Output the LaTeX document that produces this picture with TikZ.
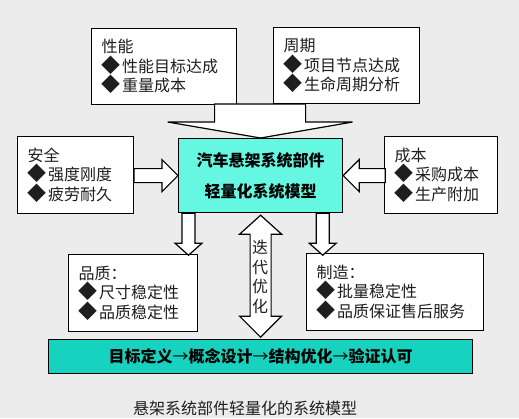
\documentclass[tikz,border=0pt]{standalone}
\usepackage{fontspec}
\usepackage{tikz}
\usepackage{xcolor}
\newfontfamily\cjk{Noto Sans CJK SC}
\definecolor{bggray}{RGB}{236,236,236}
\definecolor{mainfill}{RGB}{102,247,226}
\definecolor{barfill}{RGB}{22,210,190}
\definecolor{inkgray}{RGB}{30,30,30}
\newcommand\dia{{\fontsize{19}{19.5}\selectfont ◆}\hspace{1.5pt}}
\newcommand\thinarr{{\mdseries →}}

\begin{document}
\begin{tikzpicture}[x=1pt,y=-1pt,
  box/.style={draw=black,line width=1.2pt,fill=white,anchor=north west,inner xsep=10pt,inner ysep=0pt,align=left,text=inkgray,font=\cjk\fontsize{16}{19.5}\selectfont},
  blk/.style={draw=black,line width=1.2pt,fill=white,line join=miter}]
\fill[bggray] (0,0) rectangle (519,418);

% the six requirement boxes
\node[box,text width=125,minimum height=76] (xingneng) at (91,28) {性能\\\dia 性能目标达成\\\dia 重量成本};
\node[box,text width=126,minimum height=76] (zhouqi) at (273,27) {周期\\\dia 项目节点达成\\\dia 生命周期分析};
\node[box,text width=96,minimum height=77] (anquan) at (17,136) {安全\\\dia 强度刚度\\\dia 疲劳耐久};
\node[box,text width=93,minimum height=77] (chengben) at (384,136) {成本\\\dia 采购成本\\\dia 生产附加};
\node[box,text width=109,minimum height=77] (pinzhi) at (68,254) {品质：\\\dia 尺寸稳定性\\\dia 品质稳定性};
\node[box,text width=157,minimum height=77] (zhizao) at (306,253) {制造：\\\dia 批量稳定性\\\dia 品质保证售后服务};

% model and process
\node[draw=black,line width=1.2pt,fill=mainfill,anchor=north west,minimum width=164,minimum height=74,align=center,
  font=\cjk\bfseries\fontsize{16}{31}\selectfont] (main) at (178,138) {汽车悬架系统部件\\轻量化系统模型};
\node[draw=black,line width=1.2pt,fill=barfill,anchor=north west,minimum width=424,minimum height=34,
  font=\cjk\bfseries\fontsize{16}{19}\selectfont] (flow) at (48,339) {目标定义\thinarr 概念设计\thinarr 结构优化\thinarr 验证认可};
\node[font=\cjk\fontsize{16}{19}\selectfont,text=inkgray] (caption) at (245,408) {悬架系统部件轻量化的系统模型};

% block arrows
\draw[blk] (main.north) -- ++(-93,-16) -- ++(47,0) -- ++(0,-18) -- ++(91,0) -- ++(0,18) -- ++(47,0) -- cycle;
\draw[blk] (main.west) -- ++(-16,-16) -- ++(0,9) -- ++(-28,0) -- ++(0,14) -- ++(28,0) -- ++(0,9) -- cycle;
\draw[blk] (main.east) -- ++(16,-16) -- ++(0,9) -- ++(26,0) -- ++(0,14) -- ++(-26,0) -- ++(0,9) -- cycle;
\draw[blk] ([xshift=4pt]main.south west) -- ++(0,30) -- ++(-7,0) -- ++(13.5,12) -- ++(13.5,-12) -- ++(-7,0) -- ++(0,-30) -- cycle;
\draw[blk] ([xshift=-27pt]main.south east) -- ++(0,30) -- ++(-7,0) -- ++(13.5,12) -- ++(13.5,-12) -- ++(-7,0) -- ++(0,-30) -- cycle;
\draw[blk] ([yshift=-2pt]main.south) -- ++(21,19) -- ++(-10.5,0) -- ++(0,82) -- ++(10.5,0) -- ++(-21,21)
  -- ++(-21,-21) -- ++(10.5,0) -- ++(0,-82) -- ++(-10.5,0) -- cycle;
\node[align=center,text=inkgray,font=\cjk\fontsize{16}{19.5}\selectfont] (diedai) at (260,277) {迭\\代\\优\\化};

\end{tikzpicture}
\end{document}
